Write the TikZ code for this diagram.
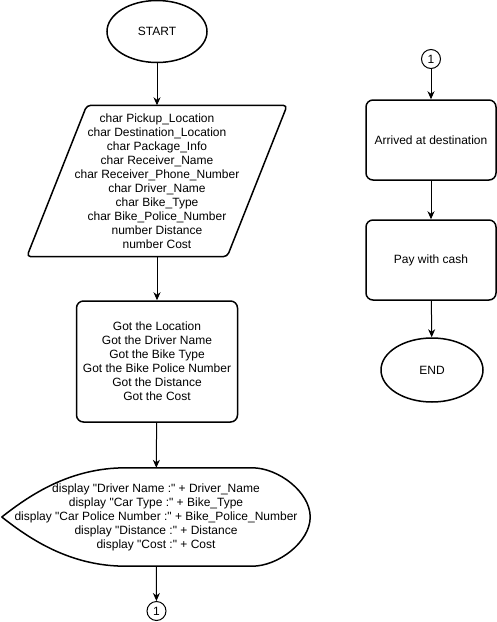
\documentclass[tikz,border=0pt]{standalone}
\usepackage{fontspec}
\setmainfont{Liberation Sans}[Ligatures=TeXOff]
\usetikzlibrary{shapes.geometric,arrows.meta}
\begin{document}
\begin{tikzpicture}[x=1pt,y=-1pt,
  txt/.style={font=\fontsize{12}{14}\selectfont, align=center, inner sep=0pt},
  term/.style={txt, ellipse, draw, line width=1.5pt, minimum width=100pt, minimum height=62pt},
  proc/.style={txt, rectangle, draw, line width=1.5pt, rounded corners=7pt, minimum width=130pt, minimum height=80pt},
  conn/.style={txt, circle, draw, line width=1pt, minimum size=19pt},
  ghost/.style={txt, rectangle, draw=none},
  outline/.style={line width=1.5pt, line join=round},
  flow/.style={line width=1pt, -{Stealth[length=8pt,width=7pt,inset=2.5pt]}}
]
\useasboundingbox (0,0) rectangle (497,622);

% left column
\node[term] (start) at (157,31.5) {START};
\node[ghost, minimum width=260pt, minimum height=151pt] (vars) at (157,181)
 {char Pickup\_Location\\char Destination\_Location\\char Package\_Info\\char Receiver\_Name\\char Receiver\_Phone\_Number\\char Driver\_Name\\char Bike\_Type\\char Bike\_Police\_Number\\number Distance\\number Cost};
\draw[outline, rounded corners=4pt] ([xshift=60pt]vars.north west) -- (vars.north east) -- ([xshift=-60pt]vars.south east) -- (vars.south west) -- cycle;

\node[proc, minimum width=161pt, minimum height=121pt] (got) at (157,361.5)
 {Got the Location\\Got the Driver Name\\Got the Bike Type\\Got the Bike Police Number\\Got the Distance\\Got the Cost};

\node[ghost, minimum width=308pt, minimum height=98pt] (disp) at (156,517)
 {display "Driver Name :" + Driver\_Name\\display "Car Type :" + Bike\_Type\\display "Car Police Number :" + Bike\_Police\_Number\\display "Distance :" + Distance\\display "Cost :" + Cost};
\draw[outline] (disp.west) .. controls ([xshift=28pt,yshift=22pt]disp.west) and ([xshift=68pt]disp.north west) .. ([xshift=124pt]disp.north west)
  -- ([xshift=-58pt]disp.north east) .. controls ([xshift=-32pt]disp.north east) and ([yshift=25pt]disp.east) .. (disp.east)
  .. controls ([yshift=-25pt]disp.east) and ([xshift=-32pt]disp.south east) .. ([xshift=-58pt]disp.south east)
  -- ([xshift=124pt]disp.south west) .. controls ([xshift=68pt]disp.south west) and ([xshift=28pt,yshift=-22pt]disp.west) .. (disp.west) -- cycle;

\node[conn] (c1) at (156.5,611) {1};

% right column
\node[conn] (c2) at (431,59) {1};
\node[proc] (arr) at (431,140) {Arrived at destination};
\node[proc] (pay) at (431,260) {Pay with cash};
\node[term, minimum width=102pt, minimum height=64pt] (endn) at (432,370) {END};

% connectors
\draw[flow] (start) -- (vars);
\draw[flow] (vars) -- (got);
\draw[flow] (got) -- (disp);
\draw[flow] (disp) -- (c1);
\draw[flow] (c2) -- (arr);
\draw[flow] (arr) -- (pay);
\draw[flow] (pay) -- (endn);
\end{tikzpicture}
\end{document}
